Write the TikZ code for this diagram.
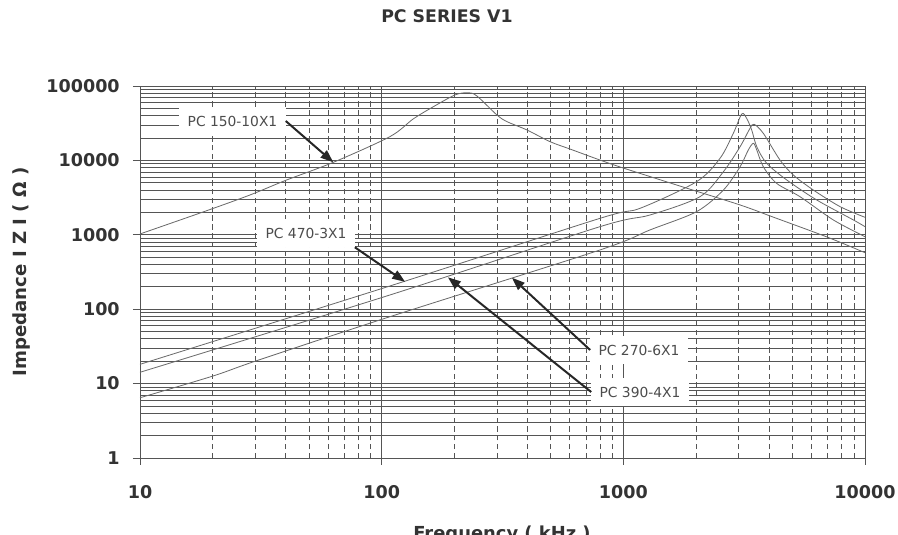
\documentclass[tikz,border=0pt]{standalone}
\usepackage{fontspec}
\setmainfont{DejaVu Sans}
\usetikzlibrary{arrows.meta}
\definecolor{gridgray}{HTML}{555555}
\definecolor{curvegray}{HTML}{6A6A6A}
\definecolor{inkgray}{HTML}{333333}
\begin{document}
\begin{tikzpicture}[x=0.03cm,y=-0.03cm,
    hgrid/.style={gridgray,line width=0.6pt},
    vminor/.style={gridgray,line width=0.6pt,dash pattern=on 4.5pt off 3pt},
    trace/.style={curvegray,line width=0.7pt,line join=round},
    tag/.style={fill=white,inner xsep=7pt,minimum height=24pt,text=black!70,font=\fontsize{11.8}{14}\selectfont},
    pointer/.style={black!85,line width=1.7pt,-{Triangle[length=11pt,width=8pt]}},
    numlabel/.style={text=inkgray,inner sep=0pt,font=\bfseries\fontsize{15}{18}\selectfont}]
  \useasboundingbox (0,0) rectangle (898,535);
  \node[numlabel,font=\bfseries\fontsize{14.8}{18}\selectfont] (title) at (447,16) {PC SERIES V1};
  \node[numlabel,rotate=90,font=\bfseries\fontsize{15.5}{18}\selectfont] (ylabel) at (21.5,272) {Impedance I Z I ( Ω )};
  \node[numlabel,anchor=north,font=\bfseries\fontsize{15.3}{18}\selectfont] (xlabel) at (502,526) {Frequency ( kHz )};
  \begin{scope}[shift={(140,458)},x=7.25cm,y=2.232cm]
    \foreach \d in {0,...,4}
      \foreach \k in {2,...,9}
        \draw[hgrid] (0,{\d+log10(\k)}) -- (3,{\d+log10(\k)});
    \foreach \d in {0,1,2}
      \foreach \k in {2,...,9}
        \draw[vminor] ({\d+log10(\k)},0) -- ({\d+log10(\k)},5);
    \foreach \v in {0,...,5}
      \draw[hgrid] (-0.029,\v) -- (3,\v);
    \foreach \u in {0,...,3}
      \draw[hgrid] (\u,-0.094) -- (\u,5);
    \foreach \v/\txt in {0/1,1/10,2/100,3/1000,4/10000,5/100000}
      \node[numlabel,anchor=east] (ynum\v) at (-0.083,\v) {\txt};
    \foreach \u/\txt in {0/10,1/100,2/1000,3/10000}
      \node[numlabel] (xnum\u) at (\u,-0.457) {\txt};
    \draw[trace] plot[smooth,tension=0.5] coordinates {(0,3.011) (0.276,3.324) (0.455,3.535) (0.607,3.737) (0.800,3.974) (1.034,4.319) (1.130,4.556) (1.212,4.718) (1.303,4.879) (1.357,4.910) (1.394,4.866) (1.477,4.610) (1.519,4.520) (1.601,4.409) (1.697,4.251) (1.779,4.153) (1.903,4.005) (1.999,3.898) (2.247,3.642) (2.483,3.401) (2.619,3.239) (2.843,2.970) (3.000,2.759)};
    \draw[trace] plot[smooth,tension=0.5] coordinates {(0,1.259) (1.034,2.312) (1.903,3.221) (2.069,3.356) (2.303,3.714) (2.400,4.028) (2.455,4.364) (2.490,4.624) (2.510,4.566) (2.531,4.409) (2.552,4.184) (2.593,3.961) (2.676,3.737) (2.800,3.468) (2.952,3.199) (3.000,3.109)};
    \draw[trace] plot[smooth,tension=0.5] coordinates {(0,1.152) (1.034,2.191) (1.903,3.109) (2.110,3.266) (2.317,3.512) (2.414,3.848) (2.483,4.184) (2.524,4.431) (2.541,4.485) (2.579,4.364) (2.648,4.005) (2.703,3.804) (2.786,3.602) (2.897,3.378) (3.000,3.235)};
    \draw[trace] plot[smooth,tension=0.5] coordinates {(0,0.810) (0.302,1.102) (0.483,1.308) (1.034,1.899) (1.903,2.796) (2.110,3.065) (2.303,3.311) (2.414,3.602) (2.483,3.915) (2.517,4.140) (2.538,4.230) (2.552,4.140) (2.579,3.915) (2.634,3.692) (2.731,3.512) (2.869,3.199) (3.000,2.974)};
    \coordinate (tip150) at (0.800,3.974);
    \coordinate (tip470) at (1.097,2.368);
    \coordinate (tip390) at (1.274,2.429);
    \coordinate (tip270) at (1.539,2.423);
  \end{scope}
  \node[tag] (l150) at (232.5,121) {PC 150-10X1};
  \node[tag] (l470) at (306,233) {PC 470-3X1};
  \node[tag] (l270) at (639,350) {PC 270-6X1};
  \node[tag] (l390) at (640,392) {PC 390-4X1};
  \draw[pointer] (l150.east) -- (tip150);
  \draw[pointer] (l470.south east) -- (tip470);
  \draw[pointer] (l270.west) -- (tip270);
  \draw[pointer] (l390.west) -- (tip390);
\end{tikzpicture}
\end{document}
